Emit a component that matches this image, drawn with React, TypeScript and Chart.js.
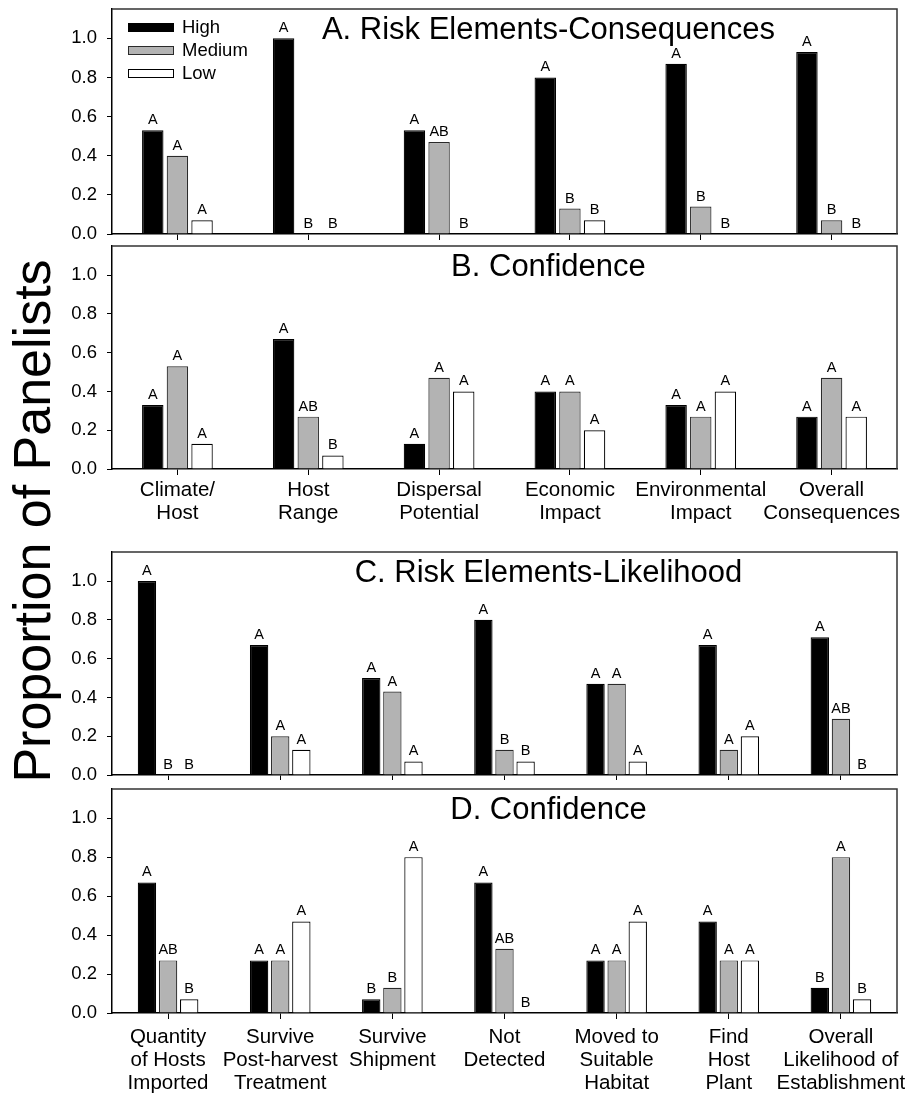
import React, { useEffect, useRef } from 'react';
import { Chart, registerables } from 'chart.js';

Chart.register(...registerables);

const FONT = "'Liberation Sans', Arial, Helvetica, sans-serif";

const seriesNames = ['High', 'Medium', 'Low'];
const seriesFill = ['#000000', '#b3b3b3', '#ffffff'];
const seriesBorder = ['#000000', '#2a2a2a', '#000000'];

const yTitle = 'Proportion of Panelists';

// Consequences panels (A, B)
const consequenceCats = [
  ['Climate/', 'Host'],
  ['Host', 'Range'],
  ['Dispersal', 'Potential'],
  ['Economic', 'Impact'],
  ['Environmental', 'Impact'],
  ['Overall', 'Consequences'],
];
const aHigh = [0.53, 1.0, 0.53, 0.8, 0.87, 0.93];
const aMedium = [0.4, 0, 0.47, 0.13, 0.14, 0.07];
const aLow = [0.07, 0, 0, 0.07, 0, 0];
const aHighSig = ['A', 'A', 'A', 'A', 'A', 'A'];
const aMediumSig = ['A', 'B', 'AB', 'B', 'B', 'B'];
const aLowSig = ['A', 'B', 'B', 'B', 'B', 'B'];

const bHigh = [0.33, 0.67, 0.13, 0.4, 0.33, 0.27];
const bMedium = [0.53, 0.27, 0.47, 0.4, 0.27, 0.47];
const bLow = [0.13, 0.07, 0.4, 0.2, 0.4, 0.27];
const bHighSig = ['A', 'A', 'A', 'A', 'A', 'A'];
const bMediumSig = ['A', 'AB', 'A', 'A', 'A', 'A'];
const bLowSig = ['A', 'B', 'A', 'A', 'A', 'A'];

// Likelihood panels (C, D)
const likelihoodCats = [
  ['Quantity', 'of Hosts', 'Imported'],
  ['Survive', 'Post-harvest', 'Treatment'],
  ['Survive', 'Shipment'],
  ['Not', 'Detected'],
  ['Moved to', 'Suitable', 'Habitat'],
  ['Find', 'Host', 'Plant'],
  ['Overall', 'Likelihood of', 'Establishment'],
];
const cHigh = [1.0, 0.67, 0.5, 0.8, 0.47, 0.67, 0.71];
const cMedium = [0, 0.2, 0.43, 0.13, 0.47, 0.13, 0.29];
const cLow = [0, 0.13, 0.07, 0.07, 0.07, 0.2, 0];
const cHighSig = ['A', 'A', 'A', 'A', 'A', 'A', 'A'];
const cMediumSig = ['B', 'A', 'A', 'B', 'A', 'A', 'AB'];
const cLowSig = ['B', 'A', 'A', 'B', 'A', 'A', 'B'];

const dHigh = [0.67, 0.27, 0.07, 0.67, 0.27, 0.47, 0.13];
const dMedium = [0.27, 0.27, 0.13, 0.33, 0.27, 0.27, 0.8];
const dLow = [0.07, 0.47, 0.8, 0, 0.47, 0.27, 0.07];
const dHighSig = ['A', 'A', 'B', 'A', 'A', 'A', 'B'];
const dMediumSig = ['AB', 'A', 'B', 'AB', 'A', 'A', 'A'];
const dLowSig = ['B', 'A', 'A', 'B', 'A', 'A', 'B'];

const yTickValues = [0, 0.2, 0.4, 0.6, 0.8, 1.0];

type Panel = {
  title: string;
  cats: string[][];
  values: number[][];
  sig: string[][];
  showLabels: boolean;
  legend: boolean;
  top: number;
  height: number;
  padTop: number;
  xHeight: number;
  labelPad: number;
};

const panels: Panel[] = [
  {
    title: 'A. Risk Elements-Consequences',
    cats: consequenceCats,
    values: [aHigh, aMedium, aLow],
    sig: [aHighSig, aMediumSig, aLowSig],
    showLabels: false,
    legend: true,
    top: 0,
    height: 240,
    padTop: 9,
    xHeight: 6,
    labelPad: 5,
  },
  {
    title: 'B. Confidence',
    cats: consequenceCats,
    values: [bHigh, bMedium, bLow],
    sig: [bHighSig, bMediumSig, bLowSig],
    showLabels: true,
    legend: false,
    top: 240,
    height: 300,
    padTop: 6,
    xHeight: 71,
    labelPad: 4,
  },
  {
    title: 'C. Risk Elements-Likelihood',
    cats: likelihoodCats,
    values: [cHigh, cMedium, cLow],
    sig: [cHighSig, cMediumSig, cLowSig],
    showLabels: false,
    legend: false,
    top: 540,
    height: 240,
    padTop: 12,
    xHeight: 5,
    labelPad: 5,
  },
  {
    title: 'D. Confidence',
    cats: likelihoodCats,
    values: [dHigh, dMedium, dLow],
    sig: [dHighSig, dMediumSig, dLowSig],
    showLabels: true,
    legend: false,
    top: 780,
    height: 315,
    padTop: 9,
    xHeight: 82,
    labelPad: 7,
  },
];

const decorPlugin = {
  id: 'decor',
  afterDatasetsDraw(chart: any) {
    const ctx = chart.ctx;
    const opts = chart.options.plugins.decor;
    ctx.save();
    ctx.fillStyle = '#000';
    ctx.font = `14.5px ${FONT}`;
    ctx.textAlign = 'center';
    ctx.textBaseline = 'alphabetic';
    chart.data.datasets.forEach((ds: any, i: number) => {
      const meta = chart.getDatasetMeta(i);
      meta.data.forEach((bar: any, j: number) => {
        const txt = opts.sig[i][j];
        if (!txt) return;
        ctx.fillText(txt, bar.x, bar.y - 6);
      });
    });
    ctx.restore();
  },
  afterDraw(chart: any) {
    const ctx = chart.ctx;
    const opts = chart.options.plugins.decor;
    const a = chart.chartArea;
    ctx.save();
    // frame top & right
    ctx.strokeStyle = '#333';
    ctx.lineWidth = 1.5;
    ctx.beginPath();
    ctx.moveTo(a.left, a.top);
    ctx.lineTo(a.right, a.top);
    ctx.lineTo(a.right, a.bottom);
    ctx.stroke();
    // title
    ctx.fillStyle = '#000';
    ctx.font = `31px ${FONT}`;
    ctx.textAlign = 'center';
    ctx.textBaseline = 'alphabetic';
    ctx.fillText(opts.title, a.left + (a.right - a.left) * 0.556, a.top + 30);
    // legend
    if (opts.legend) {
      ctx.font = `18.5px ${FONT}`;
      ctx.textAlign = 'left';
      ctx.textBaseline = 'middle';
      chart.data.datasets.forEach((ds: any, i: number) => {
        const cy = a.top + 18 + i * 23;
        const bx = a.left + 16;
        ctx.fillStyle = ds.backgroundColor;
        ctx.fillRect(bx, cy - 4, 45, 8);
        ctx.strokeStyle = ds.borderColor;
        ctx.lineWidth = 1;
        ctx.strokeRect(bx + 0.5, cy - 3.5, 45, 8);
        ctx.fillStyle = '#000';
        ctx.fillText(ds.label, bx + 54, cy + 1);
      });
    }
    ctx.restore();
  },
};

function PanelChart({ panel }: { panel: Panel }) {
  const ref = useRef<HTMLCanvasElement | null>(null);
  useEffect(() => {
    if (!ref.current) return;
    const chart = new Chart(ref.current, {
      type: 'bar',
      data: {
        labels: panel.cats,
        datasets: panel.values.map((vals, i) => ({
          label: seriesNames[i],
          data: vals,
          backgroundColor: seriesFill[i],
          borderColor: seriesBorder[i],
          borderWidth: 1.2,
          borderSkipped: 'bottom',
          categoryPercentage: 0.565,
          barPercentage: 0.87,
        })),
      },
      options: {
        responsive: false,
        maintainAspectRatio: false,
        animation: false,
        events: [],
        layout: { padding: { top: panel.padTop, left: 0, right: 8, bottom: 0 } },
        plugins: {
          legend: { display: false },
          tooltip: { enabled: false },
          decor: { title: panel.title, sig: panel.sig, legend: panel.legend },
        } as any,
        scales: {
          x: {
            type: 'category',
            offset: true,
            grid: {
              display: true,
              drawOnChartArea: false,
              drawTicks: true,
              tickLength: 6,
              color: '#000',
              offset: false,
            },
            border: { display: true, color: '#000', width: 1.5 },
            ticks: {
              display: panel.showLabels,
              autoSkip: false,
              maxRotation: 0,
              minRotation: 0,
              padding: panel.labelPad,
              color: '#000',
              font: { family: FONT, size: 20.5, lineHeight: 1.12 },
            },
            afterFit: (s: any) => {
              s.height = panel.xHeight;
              s.paddingLeft = 0;
              s.paddingRight = 0;
            },
          },
          y: {
            min: 0,
            max: 1.15,
            afterBuildTicks: (s: any) => {
              s.ticks = yTickValues.map((v) => ({ value: v }));
            },
            ticks: {
              callback: (v: any) => Number(v).toFixed(1),
              padding: 10,
              color: '#000',
              font: { family: FONT, size: 18.5 },
            },
            grid: { drawOnChartArea: false, drawTicks: true, tickLength: 5, color: '#000' },
            border: { display: true, color: '#000', width: 1.5 },
            afterFit: (s: any) => {
              s.width = 112;
              s.paddingTop = 0;
              s.paddingBottom = 0;
            },
          },
        },
      },
      plugins: [decorPlugin],
    });
    return () => chart.destroy();
  }, [panel]);
  return (
    <canvas
      ref={ref}
      width={905}
      height={panel.height}
      style={{ position: 'absolute', left: 0, top: panel.top, width: 905, height: panel.height }}
    />
  );
}

export default function App() {
  return (
    <div
      style={{
        position: 'absolute',
        left: 0,
        top: 0,
        width: 905,
        height: 1095,
        background: '#fff',
        overflow: 'hidden',
        fontFamily: FONT,
      }}
    >
      {panels.map((p, i) => (
        <PanelChart key={i} panel={p} />
      ))}
      <div
        style={{
          position: 'absolute',
          left: 32 - 320,
          top: 521 - 32,
          width: 640,
          height: 64,
          lineHeight: '64px',
          textAlign: 'center',
          fontSize: 52,
          color: '#000',
          transform: 'rotate(-90deg)',
          whiteSpace: 'nowrap',
        }}
      >
        {yTitle}
      </div>
    </div>
  );
}
